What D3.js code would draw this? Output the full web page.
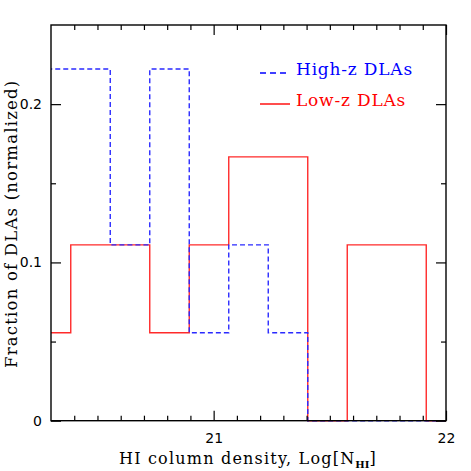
<!DOCTYPE html>
<html>
<head>
<meta charset="utf-8">
<script src="https://cdn.jsdelivr.net/npm/d3@7"></script>
<style>
  html, body { margin: 0; padding: 0; background: #fff; }
  svg { display: block; }
</style>
</head>
<body>
<svg id="chart" width="471" height="471"></svg>
<script>
// ---- data ----
const binEdges = [20.215, 20.385, 20.555, 20.725, 20.895, 21.065, 21.235, 21.405, 21.575, 21.745, 21.915, 22.085];
const highZ = [0.2222, 0.2222, 0.1111, 0.2222, 0.0556, 0.1111, 0.0556, 0, 0, 0, 0];
const lowZ  = [0.0556, 0.1111, 0.1111, 0.0556, 0.1111, 0.1667, 0.1667, 0, 0.1111, 0.1111, 0];
const seriesNames = ["High-z DLAs", "Low-z DLAs"];
const xMajorTicks = [21, 22];
const xMinorTicks = [20.4, 20.5, 20.6, 20.7, 20.8, 20.9, 21.1, 21.2, 21.3, 21.4, 21.5, 21.6, 21.7, 21.8, 21.9];
const yMajorTicks = [0, 0.1, 0.2];
const yMinorTicks = [0.05, 0.15];
const yTickLabels = ["0", "0.1", "0.2"];
const xTickLabels = ["21", "22"];

// ---- layout ----
const L = 51, T = 25, R = 446, B = 420.7;
const svg = d3.select("#chart");
const x = d3.scaleLinear().domain([20.3, 22]).range([L, R]);
const y = d3.scaleLinear().domain([0, 0.25]).range([B, T]);

svg.append("defs").append("clipPath").attr("id", "clip")
  .append("rect").attr("x", L).attr("y", T - 3).attr("width", R - L).attr("height", B - T + 6);

function steps(vals) {
  const pts = vals.map((v, i) => [binEdges[i], v]);
  pts.push([binEdges[vals.length], vals[vals.length - 1]]);
  return pts;
}
const line = d3.line().x(d => x(d[0])).y(d => y(d[1])).curve(d3.curveStepAfter);

const g = svg.append("g").attr("clip-path", "url(#clip)");
g.append("path").attr("d", line(steps(lowZ)))
  .attr("fill", "none").attr("stroke", "#ff2a2a").attr("stroke-width", 1.4);
g.append("path").attr("d", line(steps(highZ)))
  .attr("fill", "none").attr("stroke", "#2a2aff").attr("stroke-width", 1.4)
  .attr("stroke-dasharray", "5,3");

// ---- axes ----
const axisColor = "#000";
function styleAxis(sel) {
  sel.select(".domain").remove();
  sel.selectAll("line").attr("stroke", axisColor).attr("stroke-width", 1.2);
}
// bottom
svg.append("g").attr("transform", `translate(0,${B})`)
  .call(d3.axisBottom(x).tickValues(xMajorTicks).tickSize(-10).tickPadding(12)
    .tickFormat((d, i) => xTickLabels[i]))
  .call(styleAxis)
  .call(s => s.selectAll("text").attr("font-family", "DejaVu Sans").attr("font-size", 14).attr("fill", "#000"));
svg.append("g").attr("transform", `translate(0,${B})`)
  .call(d3.axisBottom(x).tickValues(xMinorTicks).tickSize(-5).tickFormat(""))
  .call(styleAxis);
// top
svg.append("g").attr("transform", `translate(0,${T})`)
  .call(d3.axisTop(x).tickValues(xMajorTicks).tickSize(-10).tickFormat(""))
  .call(styleAxis);
svg.append("g").attr("transform", `translate(0,${T})`)
  .call(d3.axisTop(x).tickValues(xMinorTicks).tickSize(-5).tickFormat(""))
  .call(styleAxis);
// left
svg.append("g").attr("transform", `translate(${L},0)`)
  .call(d3.axisLeft(y).tickValues(yMajorTicks).tickSize(-10).tickPadding(9)
    .tickFormat((d, i) => yTickLabels[i]))
  .call(styleAxis)
  .call(s => s.selectAll("text").attr("font-family", "DejaVu Sans").attr("font-size", 14).attr("fill", "#000"));
svg.append("g").attr("transform", `translate(${L},0)`)
  .call(d3.axisLeft(y).tickValues(yMinorTicks).tickSize(-5).tickFormat(""))
  .call(styleAxis);
// right
svg.append("g").attr("transform", `translate(${R},0)`)
  .call(d3.axisRight(y).tickValues(yMajorTicks).tickSize(-10).tickFormat(""))
  .call(styleAxis);
svg.append("g").attr("transform", `translate(${R},0)`)
  .call(d3.axisRight(y).tickValues(yMinorTicks).tickSize(-5).tickFormat(""))
  .call(styleAxis);

// frame
svg.append("rect").attr("x", L).attr("y", T).attr("width", R - L).attr("height", B - T)
  .attr("fill", "none").attr("stroke", "#000").attr("stroke-width", 1.4);

// ---- axis titles ----
const xt = svg.append("text").attr("x", 119).attr("y", 464)
  .attr("font-family", "DejaVu Serif").attr("font-size", 16).attr("letter-spacing", 1.2).attr("fill", "#000");
xt.append("tspan").text("HI column density, Log[N");
xt.append("tspan").text("HI").attr("font-size", 10).attr("dy", 4).attr("font-weight", "bold").attr("letter-spacing", 0);
xt.append("tspan").text("]").attr("dy", -4);

svg.append("text").attr("transform", `translate(16.5,368) rotate(-90)`)
  .attr("font-family", "DejaVu Serif").attr("font-size", 16.5).attr("letter-spacing", 1.2).attr("fill", "#000")
  .text("Fraction of DLAs (normalized)");

// ---- legend ----
const legend = [
  { name: seriesNames[0], color: "#0000ff", dash: "6,4", y: 73 },
  { name: seriesNames[1], color: "#ff0000", dash: null, y: 104 }
];
legend.forEach(d => {
  svg.append("line").attr("x1", 260).attr("x2", 290).attr("y1", d.y).attr("y2", d.y)
    .attr("stroke", d.color).attr("stroke-width", 1.4).attr("stroke-dasharray", d.dash);
  svg.append("text").attr("x", 296).attr("y", d.y + 2).attr("font-family", "DejaVu Serif")
    .attr("font-size", 17).attr("letter-spacing", 0.8).attr("fill", d.color).text(d.name);
});
</script>
</body>
</html>
